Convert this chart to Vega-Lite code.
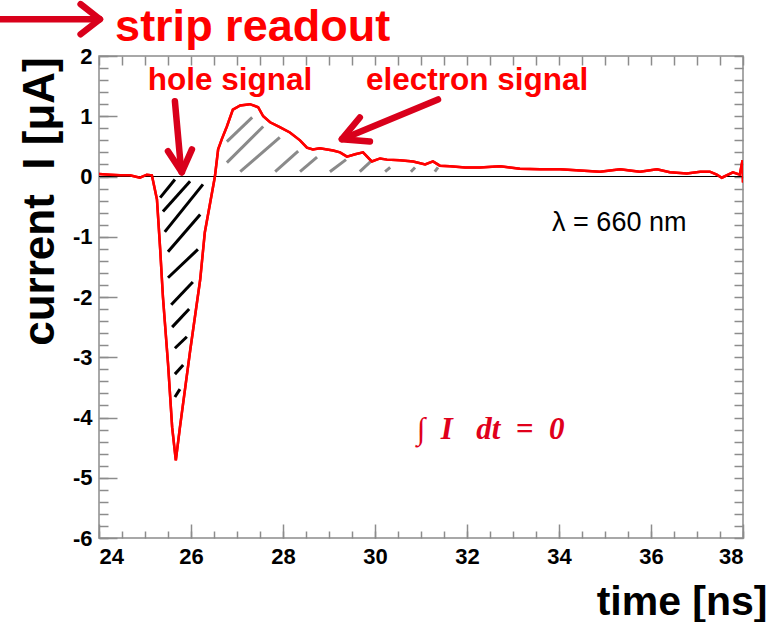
{
  "$schema": "https://vega.github.io/schema/vega-lite/v6.json",
  "width": 644,
  "height": 482,
  "autosize": "none",
  "padding": {"left": 99, "top": 56, "right": 33, "bottom": 84},
  "background": "white",
  "config": {
    "view": {"stroke": "#8c8c8c", "strokeWidth": 1.5},
    "font": "Liberation Sans",
    "axis": {"domain": false, "grid": false, "tickColor": "#8c8c8c", "tickWidth": 1.5, "labelFont": "Liberation Sans", "labelFontWeight": "bold", "labelFontSize": 22, "labelColor": "black", "titleFont": "Liberation Sans", "titleFontWeight": "bold", "titleColor": "black"}
  },
  "datasets": {
    "curve": [
      {"t": 24.0, "i": 0.04}, {"t": 24.24, "i": 0.03}, {"t": 24.46, "i": 0.02}, {"t": 24.67, "i": 0.02},
      {"t": 24.89, "i": -0.02}, {"t": 25.04, "i": 0.03}, {"t": 25.15, "i": 0.02}, {"t": 25.26, "i": -0.38},
      {"t": 25.33, "i": -1.21}, {"t": 25.39, "i": -2.0}, {"t": 25.5, "i": -3.1}, {"t": 25.59, "i": -4.16},
      {"t": 25.67, "i": -4.71}, {"t": 25.76, "i": -4.16}, {"t": 25.98, "i": -2.9}, {"t": 26.2, "i": -1.71},
      {"t": 26.3, "i": -0.93}, {"t": 26.52, "i": 0.0}, {"t": 26.59, "i": 0.45}, {"t": 26.67, "i": 0.62},
      {"t": 26.78, "i": 0.83}, {"t": 26.91, "i": 1.11}, {"t": 27.07, "i": 1.18}, {"t": 27.28, "i": 1.2},
      {"t": 27.46, "i": 1.15}, {"t": 27.57, "i": 1.0}, {"t": 27.72, "i": 0.9}, {"t": 27.93, "i": 0.82},
      {"t": 28.15, "i": 0.73}, {"t": 28.37, "i": 0.6}, {"t": 28.52, "i": 0.48}, {"t": 28.65, "i": 0.45},
      {"t": 28.8, "i": 0.47}, {"t": 29.09, "i": 0.43}, {"t": 29.24, "i": 0.4}, {"t": 29.39, "i": 0.33},
      {"t": 29.57, "i": 0.37}, {"t": 29.74, "i": 0.4}, {"t": 29.93, "i": 0.25}, {"t": 30.11, "i": 0.3},
      {"t": 30.26, "i": 0.28}, {"t": 30.54, "i": 0.27}, {"t": 30.83, "i": 0.25}, {"t": 31.09, "i": 0.2},
      {"t": 31.26, "i": 0.25}, {"t": 31.41, "i": 0.18}, {"t": 31.63, "i": 0.17}, {"t": 31.96, "i": 0.15},
      {"t": 32.28, "i": 0.15}, {"t": 32.72, "i": 0.17}, {"t": 33.15, "i": 0.13}, {"t": 33.59, "i": 0.12},
      {"t": 34.02, "i": 0.12}, {"t": 34.46, "i": 0.1}, {"t": 34.89, "i": 0.08}, {"t": 35.33, "i": 0.12},
      {"t": 35.54, "i": 0.1}, {"t": 35.76, "i": 0.08}, {"t": 36.13, "i": 0.12}, {"t": 36.41, "i": 0.07},
      {"t": 36.78, "i": 0.05}, {"t": 37.07, "i": 0.08}, {"t": 37.28, "i": 0.08}, {"t": 37.43, "i": 0.03},
      {"t": 37.54, "i": -0.02}, {"t": 37.78, "i": 0.07}, {"t": 37.93, "i": 0.03}, {"t": 37.99, "i": 0.27},
      {"t": 38.0, "i": -0.1}
    ],
    "holeHatch": [
      {"x1": 25.33, "y1": -0.35, "x2": 25.65, "y2": -0.05},
      {"x1": 25.39, "y1": -0.58, "x2": 25.98, "y2": -0.08},
      {"x1": 25.43, "y1": -0.92, "x2": 26.26, "y2": -0.13},
      {"x1": 25.5, "y1": -1.25, "x2": 26.2, "y2": -0.63},
      {"x1": 25.5, "y1": -1.68, "x2": 26.15, "y2": -1.21},
      {"x1": 25.57, "y1": -2.13, "x2": 26.04, "y2": -1.75},
      {"x1": 25.59, "y1": -2.5, "x2": 25.96, "y2": -2.2},
      {"x1": 25.65, "y1": -2.85, "x2": 25.91, "y2": -2.66},
      {"x1": 25.65, "y1": -3.28, "x2": 25.83, "y2": -3.13},
      {"x1": 25.65, "y1": -3.66, "x2": 25.76, "y2": -3.53}
    ],
    "electronHatch": [
      {"x1": 26.78, "y1": 0.58, "x2": 27.33, "y2": 0.98},
      {"x1": 26.78, "y1": 0.23, "x2": 27.57, "y2": 0.83},
      {"x1": 27.07, "y1": 0.08, "x2": 27.93, "y2": 0.65},
      {"x1": 27.83, "y1": 0.08, "x2": 28.33, "y2": 0.42},
      {"x1": 28.37, "y1": 0.08, "x2": 28.74, "y2": 0.32},
      {"x1": 29.02, "y1": 0.08, "x2": 29.37, "y2": 0.28},
      {"x1": 29.67, "y1": 0.08, "x2": 29.91, "y2": 0.25},
      {"x1": 30.22, "y1": 0.08, "x2": 30.33, "y2": 0.15},
      {"x1": 30.78, "y1": 0.08, "x2": 30.87, "y2": 0.15},
      {"x1": 31.3, "y1": 0.08, "x2": 31.37, "y2": 0.15}
    ],
    "arrows": [
      {"x1": 21.85, "y1": 2.61, "x2": 23.95, "y2": 2.61},
      {"x1": 23.6, "y1": 2.86, "x2": 24.02, "y2": 2.61},
      {"x1": 23.6, "y1": 2.36, "x2": 24.02, "y2": 2.61},
      {"x1": 25.65, "y1": 1.25, "x2": 25.78, "y2": 0.15},
      {"x1": 25.5, "y1": 0.42, "x2": 25.8, "y2": 0.07},
      {"x1": 26.02, "y1": 0.45, "x2": 25.8, "y2": 0.07},
      {"x1": 31.37, "y1": 1.28, "x2": 29.35, "y2": 0.64},
      {"x1": 29.67, "y1": 0.98, "x2": 29.28, "y2": 0.62},
      {"x1": 29.89, "y1": 0.58, "x2": 29.28, "y2": 0.62}
    ]
  },
  "resolve": {"axis": {"x": "independent", "y": "independent"}},
  "layer": [
    {
      "data": {"name": "curve"},
      "mark": {"type": "line", "color": "#ff0000", "strokeWidth": 2.5, "clip": true},
      "encoding": {
        "x": {"field": "t", "type": "quantitative", "scale": {"domain": [24, 38], "nice": false, "zero": false},
          "axis": {"orient": "bottom", "values": [24, 26, 28, 30, 32, 34, 36, 38], "tickSize": -14, "labelPadding": 22, "title": "time [ns]", "titleFontSize": 41, "titleAlign": "right", "titleX": 668, "titleY": 76, "titleBaseline": "alphabetic"}},
        "y": {"field": "i", "type": "quantitative", "scale": {"domain": [-6, 2], "nice": false, "zero": false},
          "axis": {"orient": "left", "values": [-6, -5, -4, -3, -2, -1, 0, 1, 2], "labelExpr": "toString(datum.value)", "tickSize": -18, "labelPadding": 25, "title": "current\u00a0\u00a0I [μA]", "titleFontSize": 44, "titleAngle": -90, "titleX": -59, "titleY": 145, "titleAlign": "center", "titleBaseline": "middle"}}
      }
    },
    {
      "data": {"name": "holeHatch"},
      "mark": {"type": "rule", "color": "black", "strokeWidth": 3},
      "encoding": {
        "x": {"field": "x1", "type": "quantitative",
          "axis": {"orient": "bottom", "values": [24, 24.5, 25, 25.5, 26, 26.5, 27, 27.5, 28, 28.5, 29, 29.5, 30, 30.5, 31, 31.5, 32, 32.5, 33, 33.5, 34, 34.5, 35, 35.5, 36, 36.5, 37, 37.5, 38], "tickSize": -7, "labels": false, "title": null}},
        "y": {"field": "y1", "type": "quantitative",
          "axis": {"orient": "left", "values": [-6, -5.8, -5.6, -5.4, -5.2, -5, -4.8, -4.6, -4.4, -4.2, -4, -3.8, -3.6, -3.4, -3.2, -3, -2.8, -2.6, -2.4, -2.2, -2, -1.8, -1.6, -1.4, -1.2, -1, -0.8, -0.6, -0.4, -0.2, 0, 0.2, 0.4, 0.6, 0.8, 1, 1.2, 1.4, 1.6, 1.8, 2], "tickSize": -9, "labels": false, "title": null}},
        "x2": {"field": "x2"},
        "y2": {"field": "y2"}
      }
    },
    {
      "data": {"name": "electronHatch"},
      "mark": {"type": "rule", "color": "#8a8a8a", "strokeWidth": 3},
      "encoding": {
        "x": {"field": "x1", "type": "quantitative",
          "axis": {"orient": "top", "values": [24, 24.5, 25, 25.5, 26, 26.5, 27, 27.5, 28, 28.5, 29, 29.5, 30, 30.5, 31, 31.5, 32, 32.5, 33, 33.5, 34, 34.5, 35, 35.5, 36, 36.5, 37, 37.5, 38], "tickSize": -9, "labels": false, "title": null}},
        "y": {"field": "y1", "type": "quantitative",
          "axis": {"orient": "right", "values": [-6, -5.8, -5.6, -5.4, -5.2, -5, -4.8, -4.6, -4.4, -4.2, -4, -3.8, -3.6, -3.4, -3.2, -3, -2.8, -2.6, -2.4, -2.2, -2, -1.8, -1.6, -1.4, -1.2, -1, -0.8, -0.6, -0.4, -0.2, 0, 0.2, 0.4, 0.6, 0.8, 1, 1.2, 1.4, 1.6, 1.8, 2], "tickSize": -9, "labels": false, "title": null}},
        "x2": {"field": "x2"},
        "y2": {"field": "y2"}
      }
    },
    {
      "data": {"values": [{"z": 0}]},
      "mark": {"type": "rule", "color": "black", "strokeWidth": 1},
      "encoding": {"y": {"field": "z", "type": "quantitative", "axis": null}}
    },
    {
      "data": {"name": "curve"},
      "mark": {"type": "line", "color": "#ff0000", "strokeWidth": 2.5, "clip": true},
      "encoding": {
        "x": {"field": "t", "type": "quantitative", "axis": null},
        "y": {"field": "i", "type": "quantitative", "axis": null}
      }
    },
    {
      "data": {"name": "arrows"},
      "mark": {"type": "rule", "color": "#d9001b", "strokeWidth": 6.5, "strokeCap": "round"},
      "encoding": {
        "x": {"field": "x1", "type": "quantitative", "axis": null},
        "y": {"field": "y1", "type": "quantitative", "axis": null},
        "x2": {"field": "x2"},
        "y2": {"field": "y2"}
      }
    },
    {
      "data": {"values": [{"x": 24.35, "y": 2.257, "label": "strip readout"}]},
      "mark": {"type": "text", "color": "#ff0000", "font": "Liberation Sans", "fontWeight": "bold", "fontSize": 45, "align": "left", "baseline": "alphabetic"},
      "encoding": {
        "x": {"field": "x", "type": "quantitative", "axis": null},
        "y": {"field": "y", "type": "quantitative", "axis": null},
        "text": {"field": "label"}
      }
    },
    {
      "data": {"values": [{"x": 26.85, "y": 1.58, "label": "hole signal"}, {"x": 32.22, "y": 1.58, "label": "electron signal"}]},
      "mark": {"type": "text", "color": "#ff0000", "font": "Liberation Sans", "fontWeight": "bold", "fontSize": 31.5, "align": "center", "baseline": "middle"},
      "encoding": {
        "x": {"field": "x", "type": "quantitative", "axis": null},
        "y": {"field": "y", "type": "quantitative", "axis": null},
        "text": {"field": "label"}
      }
    },
    {
      "data": {"values": [{"x": 33.85, "y": -0.77, "label": "λ = 660 nm"}]},
      "mark": {"type": "text", "color": "black", "font": "Liberation Sans", "fontSize": 27, "align": "left", "baseline": "middle"},
      "encoding": {
        "x": {"field": "x", "type": "quantitative", "axis": null},
        "y": {"field": "y", "type": "quantitative", "axis": null},
        "text": {"field": "label"}
      }
    },
    {
      "data": {"values": [{"x": 30.91, "y": -4.21, "label": "∫\u00a0\u00a0I\u00a0\u00a0\u00a0dt\u00a0\u00a0=\u00a0\u00a00"}]},
      "mark": {"type": "text", "color": "#e0001b", "font": "Liberation Serif", "fontStyle": "italic", "fontWeight": "bold", "fontSize": 31, "align": "left", "baseline": "middle"},
      "encoding": {
        "x": {"field": "x", "type": "quantitative", "axis": null},
        "y": {"field": "y", "type": "quantitative", "axis": null},
        "text": {"field": "label"}
      }
    }
  ]
}
